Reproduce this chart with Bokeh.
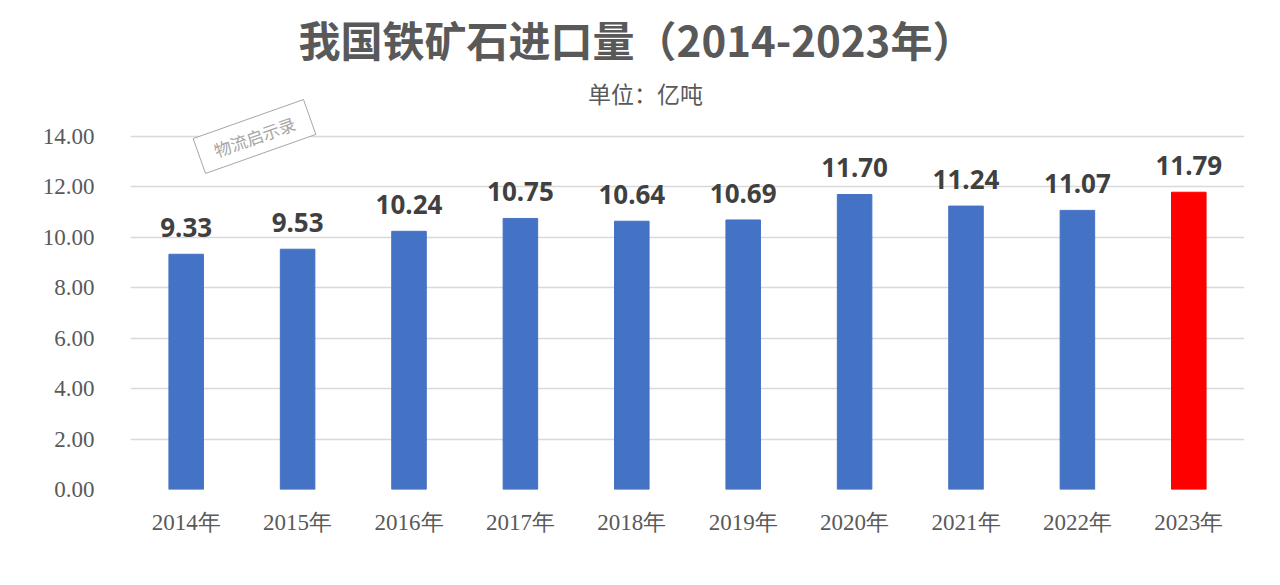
from bokeh.plotting import figure
from bokeh.models import ColumnDataSource, Range1d, Label, NumeralTickFormatter, FixedTicker
from bokeh.core.properties import value
from bokeh.embed import file_html
from bokeh.resources import INLINE

# ---- data ----
years = ["2014年", "2015年", "2016年", "2017年", "2018年",
         "2019年", "2020年", "2021年", "2022年", "2023年"]
imports = [9.33, 9.53, 10.24, 10.75, 10.64, 10.69, 11.70, 11.24, 11.07, 11.79]
y_ticks = [0, 2, 4, 6, 8, 10, 12, 14]
title_text = "我国铁矿石进口量（2014-2023年）"
subtitle_text = "单位：亿吨"
watermark_text = "物流启示录"

BLUE = "#4472C4"
RED = "#FF0000"
colors = [BLUE] * (len(years) - 1) + [RED]

src = ColumnDataSource(dict(
    x=years, y=imports, color=colors,
    label=[f"{v:.2f}" for v in imports],
))

FL, FB = 130, 96  # frame left / bottom offsets (screen)
H = 585
# the frame reaches the top of the canvas so title texts are not clipped;
# 14 units span 353 px, the frame is 489 px tall
y_top = 14 * 489 / 353

p = figure(
    width=1280, height=H,
    x_range=years, y_range=Range1d(0, y_top),
    output_backend="svg", toolbar_location=None,
    min_border_left=FL, min_border_right=36,
    min_border_top=0, min_border_bottom=FB,
)
p.outline_line_color = None
p.background_fill_color = "white"
p.border_fill_color = "white"

p.vbar(x="x", top="y", width=0.31, color="color", source=src)
p.text(x="x", y="y", text="label", source=src,
       text_align="center", text_baseline="bottom", y_offset=-17,
       text_font=value("Noto Sans"), text_font_style="bold",
       text_font_size="26px", text_color="#404040")

# axes
p.yaxis.ticker = FixedTicker(ticks=y_ticks)
p.yaxis.formatter = NumeralTickFormatter(format="0.00")
p.yaxis.axis_line_color = None
p.yaxis.major_tick_line_color = None
p.yaxis.minor_tick_line_color = None
p.yaxis.major_label_standoff = 30
p.yaxis.major_label_text_font = "Liberation Serif"
p.yaxis.major_label_text_font_size = "23px"
p.yaxis.major_label_text_color = "#595959"

p.xaxis.axis_line_color = None
p.xaxis.major_tick_line_color = None
p.xaxis.major_label_standoff = 14
p.xaxis.major_label_text_font = "Liberation Serif"
p.xaxis.major_label_text_font_size = "23px"
p.xaxis.major_label_text_color = "#595959"

p.xgrid.grid_line_color = None
p.ygrid.grid_line_color = "#d9d9d9"
p.ygrid.grid_line_width = 1.5

# title & subtitle (screen units are relative to the frame)
p.add_layout(Label(x=636 - FL, y=H - 38 - FB, x_units="screen", y_units="screen",
                   text=title_text, text_align="center", text_baseline="middle",
                   text_font="Noto Sans CJK SC", text_font_style="bold",
                   text_font_size="42px", text_color="#595959"))
p.add_layout(Label(x=645 - FL, y=H - 92 - FB, x_units="screen", y_units="screen",
                   text=subtitle_text, text_align="center", text_baseline="middle",
                   text_font="Noto Sans CJK SC",
                   text_font_size="23px", text_color="#595959"))

# watermark
p.add_layout(Label(x=254 - FL, y=H - 136 - FB, x_units="screen", y_units="screen",
                   text=watermark_text, text_align="center", text_baseline="middle",
                   angle=0.34, text_font="Noto Sans CJK SC",
                   text_font_size="17px", text_color="#a6a6a6",
                   border_line_color="#a6a6a6", border_line_width=1,
                   padding=(16, 6), background_fill_color="white"))

open("out.html", "w").write(file_html(p, INLINE))
